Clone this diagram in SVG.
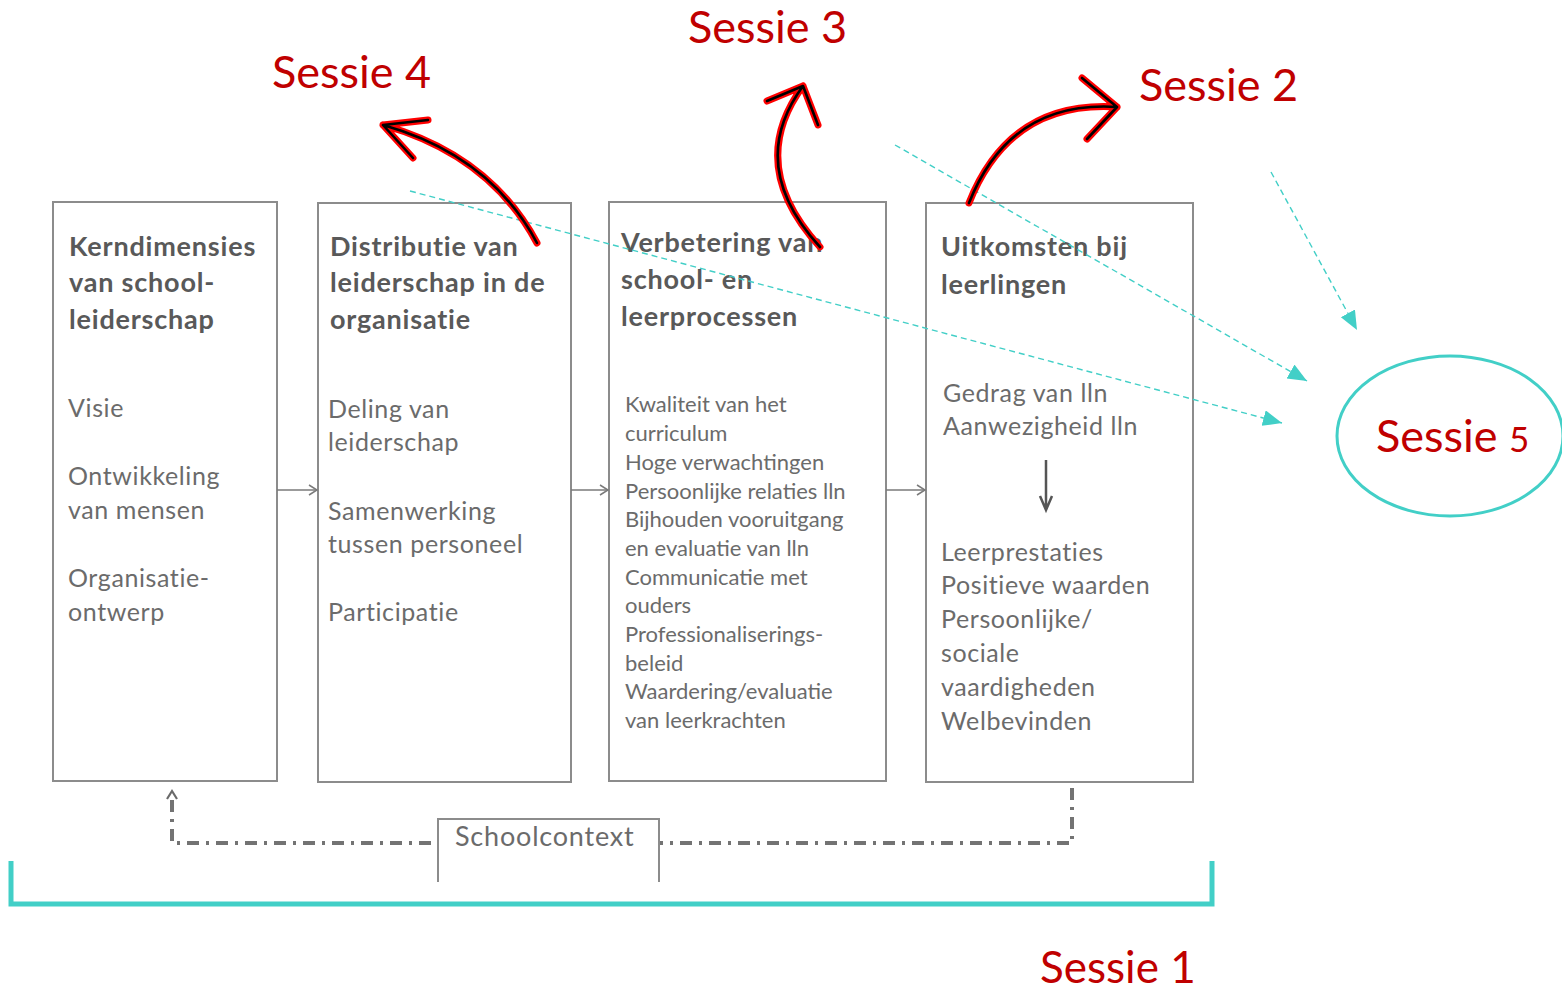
<svg xmlns="http://www.w3.org/2000/svg" width="1562" height="990" viewBox="0 0 1562 990">
<style>
.box{fill:#ffffff;stroke:#8c8c8c;stroke-width:2}
.t{font-family:Lato,"Open Sans",sans-serif;font-weight:bold;font-size:27px;letter-spacing:0.8px;fill:#595959}
.b{font-family:Lato,"Open Sans",sans-serif;font-size:25px;letter-spacing:0.6px;fill:#6b6b6b}
.bs{font-family:Lato,"Open Sans",sans-serif;font-size:22px;fill:#6b6b6b}
.s{font-family:Lato,"Open Sans",sans-serif;font-size:45px;fill:#c00000}
.teal{fill:none;stroke:#42cfc7;stroke-width:1.4;stroke-dasharray:6 4;marker-end:url(#tealhead)}
.flow{fill:none;stroke:#7a7a7a;stroke-width:1.5;marker-end:url(#grayhead)}
.redo{fill:none;stroke:#ff0000;stroke-width:7;stroke-linecap:round;stroke-linejoin:round}
.redi{fill:none;stroke:#000000;stroke-width:2.6;stroke-linecap:round;stroke-linejoin:round}
</style>
<defs>
<marker id="tealhead" markerUnits="userSpaceOnUse" markerWidth="22" markerHeight="18" refX="19" refY="8" orient="auto">
<path d="M0,0 L19,8 L0,16 z" fill="#42cfc7"/>
</marker>
<marker id="grayhead" markerUnits="userSpaceOnUse" markerWidth="12" markerHeight="14" refX="10" refY="6" orient="auto">
<path d="M2,1 L10,6 L2,11" fill="none" stroke="#7a7a7a" stroke-width="1.5"/>
</marker>
</defs>
<rect width="1562" height="990" fill="#ffffff"/>

<g id="box1">
<rect class="box" x="53" y="202" width="224" height="579"/>
<text class="t" x="69" y="256">Kerndimensies</text>
<text class="t" x="69" y="292">van school-</text>
<text class="t" x="69" y="329">leiderschap</text>
<text class="b" x="68" y="417">Visie</text>
<text class="b" x="68" y="485">Ontwikkeling</text>
<text class="b" x="68" y="519">van mensen</text>
<text class="b" x="68" y="587">Organisatie-</text>
<text class="b" x="68" y="621">ontwerp</text>
</g>

<g id="box2">
<rect class="box" x="318" y="203" width="253" height="579"/>
<text class="t" x="330" y="256">Distributie van</text>
<text class="t" x="330" y="292">leiderschap in de</text>
<text class="t" x="330" y="329">organisatie</text>
<text class="b" x="328" y="418">Deling van</text>
<text class="b" x="328" y="451">leiderschap</text>
<text class="b" x="328" y="520">Samenwerking</text>
<text class="b" x="328" y="553">tussen personeel</text>
<text class="b" x="328" y="621">Participatie</text>
</g>

<g id="box3">
<rect class="box" x="609" y="202" width="277" height="579"/>
<text class="t" x="621" y="252">Verbetering van</text>
<text class="t" x="621" y="289">school- en</text>
<text class="t" x="621" y="326">leerprocessen</text>
<text class="bs" x="625" y="412">Kwaliteit van het</text>
<text class="bs" x="625" y="441">curriculum</text>
<text class="bs" x="625" y="470">Hoge verwachtingen</text>
<text class="bs" x="625" y="499">Persoonlijke relaties lln</text>
<text class="bs" x="625" y="527">Bijhouden vooruitgang</text>
<text class="bs" x="625" y="556">en evaluatie van lln</text>
<text class="bs" x="625" y="585">Communicatie met</text>
<text class="bs" x="625" y="613">ouders</text>
<text class="bs" x="625" y="642">Professionaliserings-</text>
<text class="bs" x="625" y="671">beleid</text>
<text class="bs" x="625" y="699">Waardering/evaluatie</text>
<text class="bs" x="625" y="728">van leerkrachten</text>
</g>

<g id="box4">
<rect class="box" x="926" y="203" width="267" height="579"/>
<text class="t" x="941" y="256">Uitkomsten bij</text>
<text class="t" x="941" y="294">leerlingen</text>
<text class="b" x="943" y="402">Gedrag van lln</text>
<text class="b" x="943" y="435">Aanwezigheid lln</text>
<path d="M1046,460 V509 M1040,496 L1046,510 L1052,496" fill="none" stroke="#555555" stroke-width="2.5"/>
<text class="b" x="941" y="561">Leerprestaties</text>
<text class="b" x="941" y="594">Positieve waarden</text>
<text class="b" x="941" y="628">Persoonlijke/</text>
<text class="b" x="941" y="662">sociale</text>
<text class="b" x="941" y="696">vaardigheden</text>
<text class="b" x="941" y="730">Welbevinden</text>
</g>

<g id="connectors">
<line class="flow" x1="277" y1="490" x2="317" y2="490"/>
<line class="flow" x1="571" y1="490" x2="608" y2="490"/>
<line class="flow" x1="886" y1="490" x2="925" y2="490"/>
<path d="M1072,788 V843 H172 V797" fill="none" stroke="#737373" stroke-width="4" stroke-dasharray="12 7 3 7"/>
<path d="M167,799 L172,791 L177,799" fill="none" stroke="#6a6a6a" stroke-width="2.2"/>
<path d="M11,861 V904 H1212 V861" fill="none" stroke="#42cfc7" stroke-width="5"/>
<line class="teal" x1="410" y1="191" x2="1282" y2="423"/>
<line class="teal" x1="895" y1="145" x2="1307" y2="381"/>
<line class="teal" x1="1271" y1="172" x2="1357" y2="330"/>
<path class="redo" d="M537,243 Q490,155 383,125 M428,120 L383,125 L413,158"/>
<path class="redi" d="M537,243 Q490,155 383,125 M428,120 L383,125 L413,158"/>
<path class="redo" d="M820,247 Q745,165 803,86 M767,101 L803,86 L818,125"/>
<path class="redi" d="M820,247 Q745,165 803,86 M767,101 L803,86 L818,125"/>
<path class="redo" d="M969,203 Q1010,100 1117,107 M1082,78 L1117,107 L1087,139"/>
<path class="redi" d="M969,203 Q1010,100 1117,107 M1082,78 L1117,107 L1087,139"/>
</g>

<g id="schoolcontext">
<rect x="438" y="819" width="221" height="64" fill="#ffffff"/>
<path d="M438,882 V819 H659 V882" fill="none" stroke="#8c8c8c" stroke-width="2"/>
<text class="b" x="455" y="846" style="font-size:27px;letter-spacing:0.8px">Schoolcontext</text>
</g>

<g id="sessie5">
<ellipse cx="1450" cy="436" rx="113" ry="80" fill="none" stroke="#42cfc7" stroke-width="3"/>
<text class="s" x="1376" y="452">Sessie <tspan style="font-size:35px">5</tspan></text>
</g>

<g id="labels">
<text class="s" x="272" y="88">Sessie 4</text>
<text class="s" x="688" y="43">Sessie 3</text>
<text class="s" x="1139" y="101">Sessie 2</text>
<text class="s" x="1040" y="983" style="font-size:44px">Sessie 1</text>
</g>
</svg>
